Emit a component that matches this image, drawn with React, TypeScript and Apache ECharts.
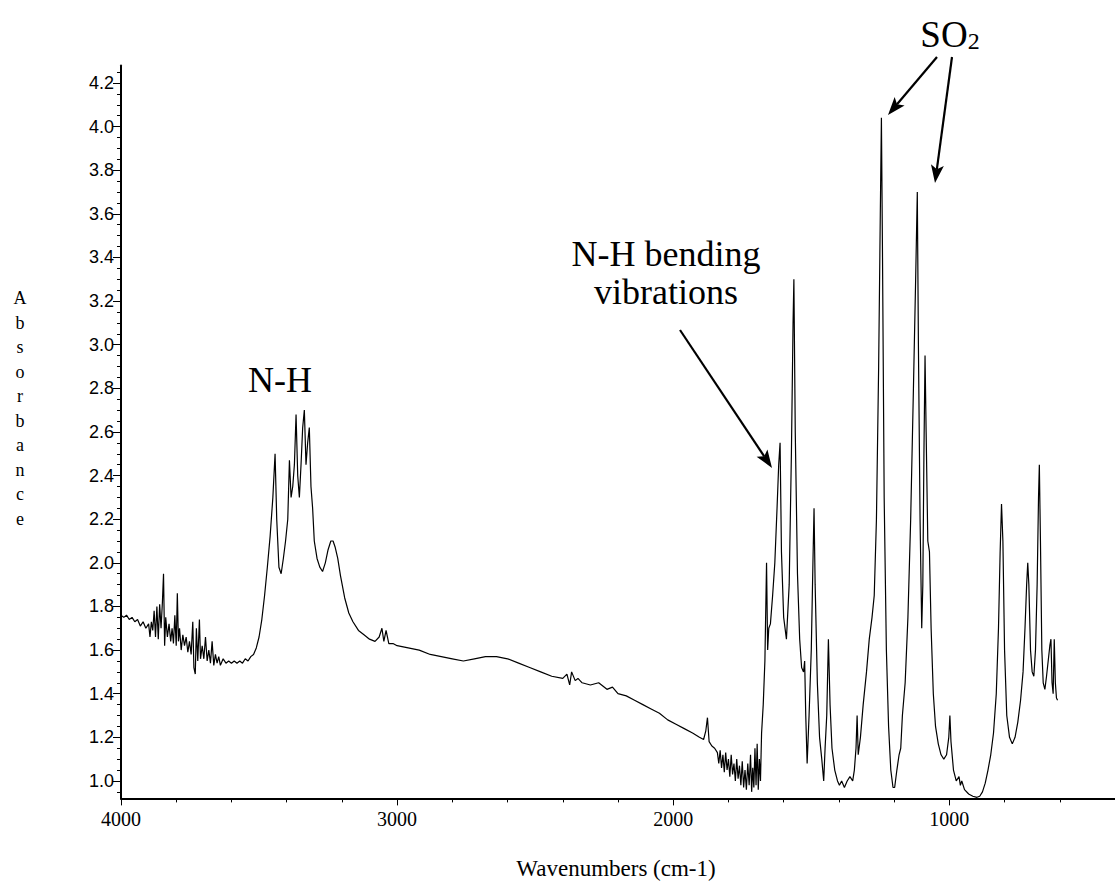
import React, { useEffect, useRef } from "react";
import * as echarts from "echarts";

// ---- data ----
const wavenumbers: number[] = [
  4000, 3990, 3980, 3970, 3960, 3950, 3940, 3930, 3920, 3910, 3900, 3895, 3890, 3885, 3880, 3875, 3870, 3865, 3860, 3855,
  3850, 3846, 3842, 3838, 3832, 3826, 3820, 3815, 3810, 3805, 3800, 3796, 3792, 3788, 3782, 3776, 3770, 3764, 3758, 3752,
  3746, 3740, 3736, 3731, 3727, 3722, 3716, 3712, 3706, 3700, 3694, 3688, 3682, 3676, 3670, 3664, 3658, 3652, 3646, 3640,
  3630, 3620, 3610, 3600, 3590, 3580, 3570, 3560, 3550, 3540, 3530, 3520, 3510, 3500, 3490, 3480, 3470, 3460, 3450, 3442,
  3436, 3428, 3420, 3412, 3404, 3396, 3390, 3384, 3378, 3372, 3366, 3360, 3354, 3348, 3342, 3336, 3330, 3324, 3318, 3312,
  3306, 3300, 3290, 3280, 3270, 3260, 3250, 3240, 3232, 3224, 3215, 3205, 3190, 3175, 3160, 3140, 3120, 3100, 3080, 3065,
  3055, 3048, 3040, 3030, 3015, 3000, 2960, 2920, 2880, 2840, 2800, 2760, 2720, 2680, 2640, 2600, 2560, 2520, 2480, 2440,
  2400, 2385, 2375, 2368, 2355, 2345, 2330, 2300, 2270, 2240, 2220, 2200, 2170, 2140, 2110, 2080, 2050, 2020, 1990, 1960,
  1930, 1905, 1890, 1882, 1876, 1870, 1860, 1850, 1840, 1835, 1830, 1825, 1820, 1815, 1810, 1805, 1800, 1795, 1790, 1785,
  1780, 1775, 1770, 1765, 1760, 1755, 1750, 1745, 1740, 1735, 1730, 1725, 1720, 1716, 1712, 1708, 1704, 1700, 1696, 1692,
  1688, 1684, 1680, 1674, 1668, 1662, 1658, 1654, 1648, 1640, 1632, 1624, 1618, 1613, 1608, 1600, 1590, 1580, 1572, 1566,
  1563, 1558, 1550, 1542, 1535, 1528, 1524, 1520, 1515, 1508, 1500, 1494, 1490, 1486, 1478, 1470, 1462, 1455, 1450, 1444,
  1438, 1432, 1425, 1415, 1405, 1398, 1390, 1380, 1370, 1360, 1350, 1344, 1338, 1334, 1330, 1322, 1312, 1300, 1290, 1280,
  1272, 1264, 1256, 1250, 1246, 1242, 1236, 1228, 1220, 1212, 1204, 1198, 1190, 1182, 1176, 1170, 1160, 1150, 1140, 1130,
  1122, 1116, 1112, 1106, 1100, 1096, 1092, 1088, 1084, 1078, 1072, 1066, 1058, 1050, 1040, 1030, 1020, 1010, 1002, 998,
  994, 985, 975, 965, 960, 955, 945, 930, 915,
  900, 890, 880, 870, 860, 850, 840, 830, 822, 816, 811, 806, 800, 792, 782, 772, 762, 752, 742, 733,
  726, 720, 716, 712, 706, 700, 694, 688, 682, 677, 674, 670, 665, 660, 654, 648, 642, 636, 632, 628,
  624, 620, 616, 612, 608
];

const absorbance: number[] = [
  1.76, 1.75, 1.76, 1.74, 1.75, 1.73, 1.74, 1.71, 1.73, 1.70, 1.72, 1.66, 1.73, 1.69, 1.78, 1.66, 1.80, 1.65, 1.81, 1.70,
  1.82, 1.95, 1.62, 1.75, 1.66, 1.72, 1.64, 1.70, 1.63, 1.76, 1.62, 1.86, 1.64, 1.70, 1.60, 1.67, 1.62, 1.66, 1.59, 1.64,
  1.58, 1.73, 1.52, 1.49, 1.70, 1.55, 1.74, 1.56, 1.62, 1.56, 1.66, 1.55, 1.60, 1.54, 1.64, 1.53, 1.58, 1.54, 1.57, 1.53,
  1.56, 1.54, 1.55, 1.54, 1.55, 1.54, 1.55, 1.54, 1.56, 1.55, 1.57, 1.58, 1.61, 1.66, 1.74, 1.85, 1.98, 2.12, 2.30, 2.50,
  2.20, 1.98, 1.95, 2.02, 2.10, 2.20, 2.47, 2.30, 2.35, 2.45, 2.68, 2.40, 2.30, 2.45, 2.62, 2.70, 2.45, 2.55, 2.62, 2.35,
  2.25, 2.10, 2.02, 1.98, 1.96, 2.00, 2.06, 2.10, 2.10, 2.07, 2.02, 1.94, 1.84, 1.77, 1.73, 1.69, 1.67, 1.65, 1.64, 1.66,
  1.70, 1.64, 1.69, 1.63, 1.63, 1.62, 1.61, 1.60, 1.58, 1.57, 1.56, 1.55, 1.56, 1.57, 1.57, 1.56, 1.54, 1.52, 1.50, 1.48,
  1.47, 1.49, 1.44, 1.50, 1.46, 1.47, 1.45, 1.44, 1.45, 1.42, 1.43, 1.40, 1.39, 1.37, 1.35, 1.33, 1.31, 1.28, 1.26, 1.24,
  1.22, 1.20, 1.19, 1.23, 1.29, 1.18, 1.16, 1.15, 1.13, 1.08, 1.14, 1.06, 1.12, 1.04, 1.13, 1.05, 1.10, 1.02, 1.12, 1.03,
  1.08, 1.00, 1.10, 1.01, 1.07, 0.98, 1.09, 0.97, 1.05, 0.96, 1.08, 0.98, 1.12, 0.95, 1.06, 0.97, 1.15, 0.98, 1.17, 0.96,
  1.10, 1.00, 1.22, 1.35, 1.55, 2.00, 1.60, 1.70, 1.72, 1.85, 2.00, 2.25, 2.45, 2.55, 2.05, 1.75, 1.65, 1.90, 2.50, 3.10,
  3.30, 2.60, 1.95, 1.65, 1.52, 1.50, 1.55, 1.30, 1.08, 1.30, 1.60, 2.00, 2.25, 1.90, 1.45, 1.20, 1.10, 1.00, 1.15, 1.30,
  1.65, 1.35, 1.15, 1.05, 1.00, 0.98, 1.00, 0.97, 1.00, 1.02, 1.00, 1.05, 1.15, 1.30, 1.12, 1.20, 1.35, 1.50, 1.65, 1.75,
  1.85, 2.20, 2.90, 3.60, 4.04, 3.40, 2.30, 1.60, 1.25, 1.05, 0.97, 0.97, 1.05, 1.12, 1.15, 1.30, 1.45, 1.75, 2.20, 2.80,
  3.30, 3.70, 3.00, 2.20, 1.70, 1.90, 2.50, 2.95, 2.60, 2.10, 2.05, 1.70, 1.40, 1.25, 1.17, 1.12, 1.10, 1.12, 1.20, 1.30,
  1.18, 1.05, 1.00, 1.02, 0.98, 1.00, 0.96, 0.94, 0.93,
  0.925, 0.93, 0.95, 0.99, 1.05, 1.12, 1.22, 1.40, 1.70, 2.05, 2.27, 2.10, 1.60, 1.30, 1.20, 1.17, 1.20, 1.27, 1.37, 1.50,
  1.70, 1.90, 2.00, 1.90, 1.60, 1.50, 1.48, 1.60, 1.90, 2.30, 2.45, 2.10, 1.60, 1.45, 1.42, 1.48, 1.55, 1.62, 1.65, 1.45,
  1.40, 1.65, 1.45, 1.38, 1.37
];

const xMajorTicks: number[] = [4000, 3000, 2000, 1000];
const yMajorTicks: number[] = [1.0, 1.2, 1.4, 1.6, 1.8, 2.0, 2.2, 2.4, 2.6, 2.8, 3.0, 3.2, 3.4, 3.6, 3.8, 4.0, 4.2];

const X_MIN = 400;
const X_MAX = 4000;
const Y_MIN = 0.92;
const Y_MAX = 4.28;

function yMinorTicks(): number[] {
  const out: number[] = [];
  for (let i = 19; i <= 85; i++) out.push(Math.round(i * 5) / 100);
  return out;
}

function arrow(sx: number, sy: number, tx: number, ty: number) {
  const dx = tx - sx;
  const dy = ty - sy;
  const len = Math.sqrt(dx * dx + dy * dy);
  const ux = dx / len;
  const uy = dy / len;
  const L = 18;
  const W = 13;
  const bx = tx - ux * L;
  const by = ty - uy * L;
  const nx = -uy;
  const ny = ux;
  return [
    {
      type: "line",
      shape: { x1: sx, y1: sy, x2: bx + ux * 4, y2: by + uy * 4 },
      style: { stroke: "#000", lineWidth: 2.2 },
    },
    {
      type: "polygon",
      shape: {
        points: [
          [tx, ty],
          [bx + (nx * W) / 2, by + (ny * W) / 2],
          [bx + ux * 4, by + uy * 4],
          [bx - (nx * W) / 2, by - (ny * W) / 2],
        ],
      },
      style: { fill: "#000" },
    },
  ];
}

export default function App() {
  const ref = useRef<HTMLDivElement>(null);

  useEffect(() => {
    if (!ref.current) return;
    const chart = echarts.init(ref.current, null, { renderer: "svg" });
    const seriesData = wavenumbers.map((w, i) => [w, absorbance[i]]);
    const serif = '"Liberation Serif", "Times New Roman", serif';
    const sans = '"Liberation Sans", Arial, sans-serif';

    chart.setOption({
      animation: false,
      backgroundColor: "#fff",
      grid: { left: 121, right: -9, top: 65.5, bottom: 89.6, containLabel: false },
      xAxis: [
        {
          type: "value",
          inverse: true,
          min: X_MIN,
          max: X_MAX,
          position: "bottom",
          axisLine: { show: true, lineStyle: { color: "#000", width: 2 } },
          axisTick: { show: true, customValues: xMajorTicks, length: 7, lineStyle: { color: "#000", width: 1 } },
          axisLabel: {
            show: true,
            customValues: xMajorTicks,
            formatter: (v: number) => String(Math.round(v)),
            color: "#000",
            fontFamily: serif,
            fontSize: 20,
            margin: 11,
          },
          splitLine: { show: false },
        },
        {
          type: "value",
          inverse: true,
          min: X_MIN,
          max: X_MAX,
          interval: 200,
          position: "bottom",
          axisLine: { show: false },
          axisTick: { show: true, length: 4, lineStyle: { color: "#000", width: 1 } },
          axisLabel: { show: false },
          splitLine: { show: false },
        },
      ],
      yAxis: [
        {
          type: "value",
          min: Y_MIN,
          max: Y_MAX,
          position: "left",
          axisLine: { show: true, lineStyle: { color: "#000", width: 2 } },
          axisTick: { show: true, customValues: yMajorTicks, length: 8, lineStyle: { color: "#000", width: 1 } },
          axisLabel: {
            show: true,
            customValues: yMajorTicks,
            formatter: (v: number) => v.toFixed(1),
            color: "#000",
            fontFamily: sans,
            fontSize: 18,
            margin: 7,
          },
          splitLine: { show: false },
        },
        {
          type: "value",
          min: Y_MIN,
          max: Y_MAX,
          position: "left",
          axisLine: { show: false },
          axisTick: { show: true, customValues: yMinorTicks(), length: 4, lineStyle: { color: "#000", width: 1 } },
          axisLabel: { show: false },
          splitLine: { show: false },
        },
      ],
      series: [
        {
          type: "line",
          xAxisIndex: 0,
          yAxisIndex: 0,
          data: seriesData,
          showSymbol: false,
          symbol: "none",
          lineStyle: { color: "#000", width: 1.2 },
          silent: true,
        },
      ],
      graphic: [
        {
          type: "text",
          x: 20,
          y: 286,
          style: {
            text: "A\nb\ns\no\nr\nb\na\nn\nc\ne",
            font: '18px "Liberation Serif"',
            lineHeight: 24.5,
            align: "center",
            fill: "#000",
          },
        },
        {
          type: "text",
          x: 616,
          y: 868,
          style: {
            text: "Wavenumbers (cm-1)",
            font: '23px "Liberation Serif"',
            align: "center",
            verticalAlign: "middle",
            fill: "#000",
          },
        },
        {
          type: "text",
          x: 280,
          y: 380,
          style: {
            text: "N-H",
            font: '36px "Liberation Serif"',
            align: "center",
            verticalAlign: "middle",
            fill: "#000",
          },
        },
        {
          type: "text",
          x: 666,
          y: 235,
          style: {
            text: "N-H bending\nvibrations",
            font: '36px "Liberation Serif"',
            lineHeight: 38,
            align: "center",
            fill: "#000",
          },
        },
        {
          type: "text",
          x: 950,
          y: 34,
          style: {
            text: "{a|SO}{b|2}",
            align: "center",
            verticalAlign: "middle",
            rich: {
              a: { font: '37px "Liberation Serif"', fill: "#000", verticalAlign: "bottom" },
              b: { font: '24px "Liberation Serif"', fill: "#000", padding: [14, 0, 0, 0] },
            },
          },
        },
        ...arrow(937, 57, 888, 115),
        ...arrow(952, 57, 935, 183),
        ...arrow(680, 330, 772, 468),
      ],
    });

    return () => {
      chart.dispose();
    };
  }, []);

  return (
    <div
      ref={ref}
      style={{ position: "absolute", left: 0, top: 0, width: 1115, height: 888, background: "#fff" }}
    />
  );
}
